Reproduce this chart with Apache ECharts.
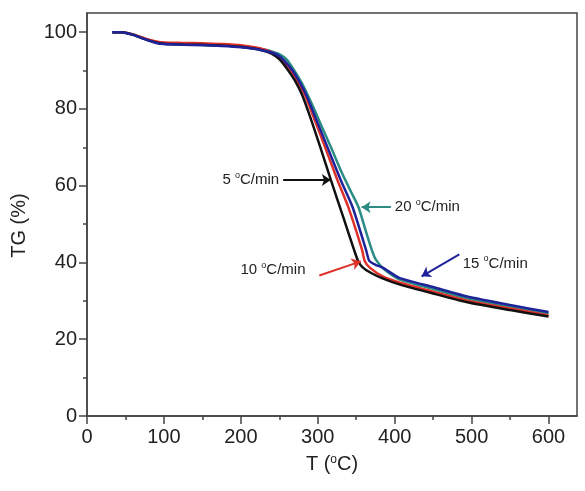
<!DOCTYPE html>
<html>
<head>
	<meta charset="utf-8"/>
	<title>TG</title>
	<style>
		* { margin: 0; padding: 0; }
		body { background: #fff; }
		#chart { width: 585px; height: 491px; }
	</style>
</head>
<body>
	<div id="chart"></div>
	<script src="https://cdn.jsdelivr.net/npm/echarts@6/dist/echarts.min.js"></script>
	<script>
		// 读图估计的数据
		var xTicks = [0, 100, 200, 300, 400, 500, 600];
		var xMinorTicks = [50, 150, 250, 350, 450, 550];
		var yTicks = [0, 20, 40, 60, 80, 100];
		var yMinorTicks = [10, 30, 50, 70, 90];

		var t5 = [33, 45, 60, 75, 90, 100, 125, 150, 175, 200, 220, 232, 240, 250, 260, 270, 280, 291, 304, 317, 334, 347, 352, 358, 370, 385, 406, 450, 493, 550, 600];
		var tg5 = [100, 100, 99.3, 98.2, 97.3, 97, 96.8, 96.7, 96.5, 96.2, 95.6, 95, 94.4, 93, 90.5, 87.5, 83.5, 77.4, 69.6, 61.5, 51.3, 43.4, 40.6, 38.8, 37.2, 35.8, 34.3, 31.9, 29.7, 27.6, 25.9];

		var t10 = [33, 45, 60, 75, 90, 100, 125, 150, 175, 200, 220, 232, 240, 250, 263.6, 273, 283.6, 295.5, 310.3, 325.5, 339.7, 357.4, 361, 368, 385, 406, 450, 493, 550, 600];
		var tg10 = [100, 100, 99.4, 98.4, 97.6, 97.3, 97.2, 97.1, 96.9, 96.6, 96, 95.4, 94.8, 93.5, 90.5, 87.5, 83.5, 77.4, 69.6, 61.5, 54.4, 43.4, 40.4, 38.6, 36.3, 34.8, 32.4, 30.1, 28.0, 26.2];

		var t15 = [33, 45, 60, 75, 90, 100, 125, 150, 175, 200, 220, 232, 240, 250, 265.4, 275, 285.4, 297.7, 313.5, 329.8, 345.3, 362.6, 367, 375, 385, 406, 450, 493, 550, 600];
		var tg15 = [100, 100, 99.3, 98.2, 97.2, 96.9, 96.7, 96.6, 96.4, 96.1, 95.6, 95.1, 94.7, 93.8, 90.5, 87.5, 83.5, 77.4, 69.6, 61.5, 54.4, 43.4, 40.4, 39.4, 38.6, 36.0, 33.6, 31.2, 28.9, 27.1];

		var t20 = [33, 45, 60, 75, 90, 100, 125, 150, 175, 200, 220, 232, 240, 250, 260, 268, 280, 293, 305, 318, 331, 343, 353, 362, 370, 374, 377, 385, 406, 450, 493, 550, 600];
		var tg20 = [100, 100, 99.4, 98.3, 97.3, 97, 96.8, 96.7, 96.5, 96.2, 95.8, 95.4, 95, 94.3, 92.8, 90.5, 86.5, 81, 75.5, 69.6, 63.5, 58.5, 54.4, 48.5, 43.4, 41.3, 40.3, 38.4, 35.6, 33.1, 30.7, 28.5, 26.7];

		// 箭头 [起点, 终点]
		var arrow5 = [[255, 61.5], [317, 61.5]];
		var arrow10 = [[302, 36.6], [356, 40.3]];
		var arrow15 = [[484, 42.1], [435, 36.4]];
		var arrow20 = [[395, 54.4], [357, 54.4]];

		function pairs(t, v) {
			return t.map(function (x, i) { return [x, v[i]]; });
		}

		var font = '"Liberation Sans", Arial, sans-serif';
		var rich = {
			s: { fontSize: 9, lineHeight: 10, verticalAlign: 'top', fontFamily: font, color: '#222' }
		};

		function makeSeries(name, t, v, color, arrow, text, z, pad) {
			return {
				name: name,
				type: 'line',
				data: pairs(t, v),
				smooth: 0.2,
				showSymbol: false,
				z: z,
				lineStyle: { color: color, width: 2.5 },
				markLine: {
					silent: true,
					animation: false,
					symbol: ['none', 'arrow'],
					symbolSize: 9,
					lineStyle: { color: color, width: 2, type: 'solid' },
					label: {
						show: true,
						position: 'start',
						distance: 4,
						padding: pad,
						formatter: text,
						fontSize: 15,
						lineHeight: 18,
						fontFamily: font,
						color: '#222',
						rich: rich
					},
					data: [[{ coord: arrow[0] }, { coord: arrow[1] }]]
				}
			};
		}

		var myChart = echarts.init(document.getElementById('chart'));

		var option = {
			animation: false,
			grid: {
				left: 87, right: 8, top: 13, bottom: 75,
				show: true,
				borderColor: '#444',
				borderWidth: 1.5,
				backgroundColor: 'transparent'
			},
			xAxis: [
				{
					type: 'value',
					min: 0, max: 637,
					name: 'T ({s|o}C)',
					nameLocation: 'middle',
					nameGap: 38,
					nameTextStyle: { fontSize: 20, fontFamily: font, color: '#222', rich: { s: { fontSize: 12, lineHeight: 12, verticalAlign: 'top', fontFamily: font, color: '#222' } } },
					axisLine: { lineStyle: { color: '#444', width: 1.5 } },
					axisTick: { length: 8, customValues: xTicks, lineStyle: { color: '#444', width: 1.5 } },
					axisLabel: { customValues: xTicks, fontSize: 20, margin: 11, fontFamily: font, color: '#222' },
					splitLine: { show: false }
				},
				{
					type: 'value',
					min: 0, max: 637,
					position: 'bottom',
					axisLine: { show: false },
					axisTick: { length: 4, customValues: xMinorTicks, lineStyle: { color: '#444', width: 1.5 } },
					axisLabel: { show: false },
					splitLine: { show: false }
				}
			],
			yAxis: [
				{
					type: 'value',
					min: 0, max: 105,
					name: 'TG (%)',
					nameLocation: 'middle',
					nameGap: 58,
					nameTextStyle: { fontSize: 20, fontFamily: font, color: '#222', padding: [0, 22, 0, 0] },
					axisLine: { show: true, lineStyle: { color: '#444', width: 1.5 } },
					axisTick: { show: true, length: 8, customValues: yTicks, lineStyle: { color: '#444', width: 1.5 } },
					axisLabel: { customValues: yTicks, fontSize: 20, margin: 10, fontFamily: font, color: '#222' },
					splitLine: { show: false }
				},
				{
					type: 'value',
					min: 0, max: 105,
					position: 'left',
					axisLine: { show: false },
					axisTick: { show: true, length: 4, customValues: yMinorTicks, lineStyle: { color: '#444', width: 1.5 } },
					axisLabel: { show: false },
					splitLine: { show: false }
				}
			],
			series: [
				makeSeries('20 oC/min', t20, tg20, '#2b8c84', arrow20, '20 {s|o}C/min', 2, 0),
				makeSeries('10 oC/min', t10, tg10, '#e0302a', arrow10, '10 {s|o}C/min', 3, [0, 10, 14, 0]),
				makeSeries('5 oC/min', t5, tg5, '#111111', arrow5, '5 {s|o}C/min', 4, 0),
				makeSeries('15 oC/min', t15, tg15, '#1f239a', arrow15, '15 {s|o}C/min', 5, [22, 0, 0, 0])
			]
		};

		myChart.setOption(option);
	</script>
</body>
</html>
